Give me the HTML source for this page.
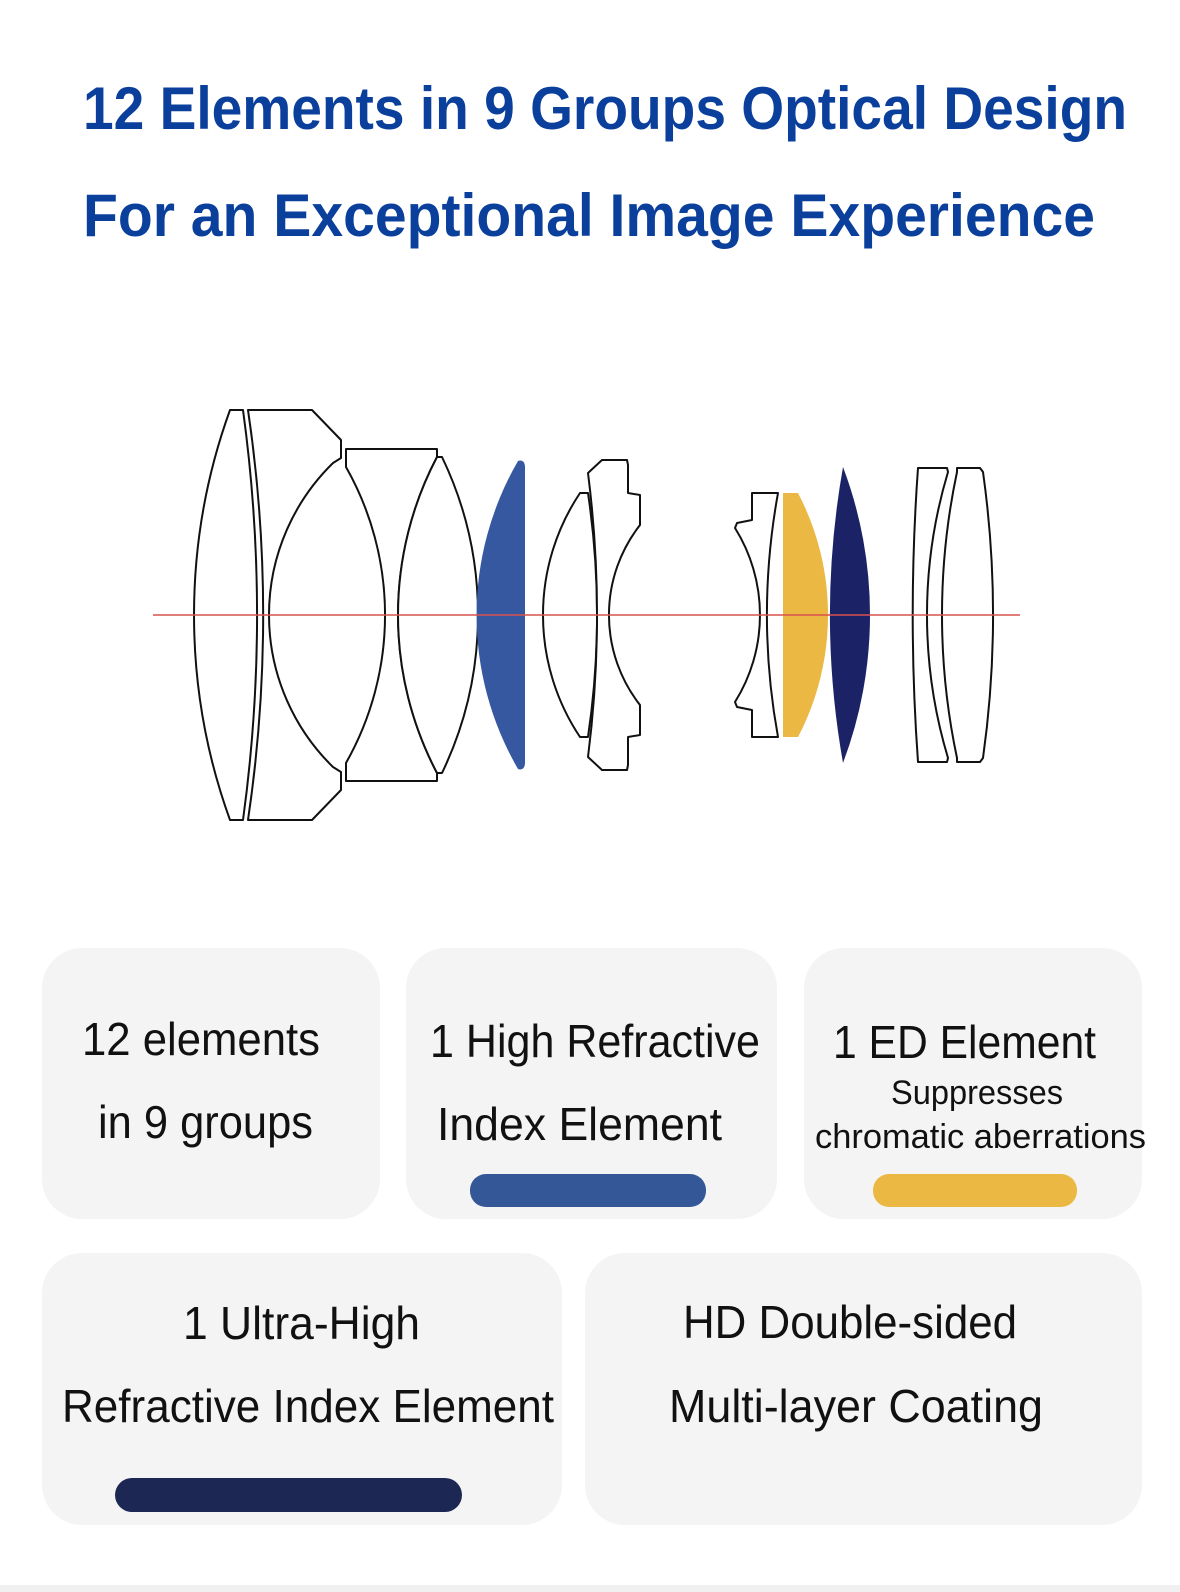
<!DOCTYPE html>
<html><head><meta charset="utf-8"><style>
html,body{margin:0;padding:0;background:#fff;}
svg{display:block;}
</style></head><body>
<svg width="1180" height="1592" viewBox="0 0 1180 1592" xmlns="http://www.w3.org/2000/svg">
<rect width="1180" height="1592" fill="#fff"/>
<g font-family="Liberation Sans, sans-serif" font-weight="bold" fill="#0b3f9c" font-size="60">
<text x="83" y="129" textLength="1044" lengthAdjust="spacingAndGlyphs">12 Elements in 9 Groups Optical Design</text>
<text x="83" y="236" textLength="1012" lengthAdjust="spacingAndGlyphs">For an Exceptional Image Experience</text>
</g>
<g fill="#fff" stroke="#111" stroke-width="2" stroke-linejoin="round">
<path d="M230,410 L243,410 A1508,1508 0 0 1 243,820 L230,820 A602,602 0 0 1 230,410 Z"/>
<path d="M248,410 L312,410 L341,440 L341,458 L333,463 A212.5,212.5 0 0 0 333,767 L341,772 L341,790 L312,820 L248,820 A1400,1400 0 0 0 248,410 Z"/>
<path d="M346,449 L437,449 L437,457 A339.6,339.6 0 0 0 437,773 L437,781 L346,781 L346,763 A300,300 0 0 0 346,467 Z"/>
<path d="M437,457 L442,457 A364.7,364.7 0 0 1 442,773 L437,773 A339.6,339.6 0 0 1 437,457 Z"/>
<path d="M580,493 L588,493 A831,831 0 0 1 588,737 L580,737 A219.6,219.6 0 0 1 580,493 Z"/>
<path d="M588,473 L602,460 L627,460 L628,465 L628,493 L640,495 L640,525 A146,146 0 0 0 640,705 L640,735 L628,737 L628,765 L627,770 L602,770 L588,757 A1125,1125 0 0 0 588,473 Z"/>
<path d="M752,493 L778,493 A682,682 0 0 0 778,737 L752,737 L752,710 L737,707 L735,702 A164,164 0 0 0 735,528 L737,523 L752,520 Z"/>
<path d="M918,468 L947,468 L948,472 A497,497 0 0 0 948,758 L947,762 L918,762 A2045,2045 0 0 1 918,468 Z"/>
<path d="M957,468 L980,468 L983,472 A1027,1027 0 0 1 983,758 L980,762 L957,762 L957,758 A689,689 0 0 1 957,472 Z"/>
</g>
<path d="M518,461 Q524,459 525,466 L525,764 Q524,771 518,769 A307,307 0 0 1 518,461 Z" fill="#3558a0"/>
<path d="M783,493 L798,493 A263,263 0 0 1 798,737 L783,737 Z" fill="#ebb843"/>
<path d="M843,467 A419,419 0 0 1 843,763 A849,849 0 0 1 843,467 Z" fill="#1b2366"/>
<line x1="153" y1="615" x2="1020" y2="615" stroke="#d9534f" stroke-width="1.6"/>

<g fill="#f4f4f4">
<rect x="42" y="948" width="338" height="271" rx="40"/>
<rect x="406" y="948" width="371" height="271" rx="40"/>
<rect x="804" y="948" width="338" height="271" rx="40"/>
<rect x="42" y="1253" width="520" height="272" rx="40"/>
<rect x="585" y="1253" width="557" height="272" rx="40"/>
</g>
<rect x="470" y="1174" width="236" height="33" rx="16" fill="#345897"/>
<rect x="873" y="1174" width="204" height="33" rx="16" fill="#ebb943"/>
<rect x="115" y="1478" width="347" height="34" rx="17" fill="#1d2753"/>
<rect x="0" y="1585" width="1180" height="7" fill="#f0f0f0"/>

<g font-family="Liberation Sans, sans-serif" fill="#111" font-size="46">
<text x="82" y="1055" textLength="238" lengthAdjust="spacingAndGlyphs">12 elements</text>
<text x="98" y="1138" textLength="215" lengthAdjust="spacingAndGlyphs">in 9 groups</text>
<text x="430" y="1057" textLength="330" lengthAdjust="spacingAndGlyphs">1 High Refractive</text>
<text x="437" y="1140" textLength="285" lengthAdjust="spacingAndGlyphs">Index Element</text>
<text x="833" y="1058" textLength="263" lengthAdjust="spacingAndGlyphs">1 ED Element</text>
<text x="891" y="1104" font-size="34" textLength="172" lengthAdjust="spacingAndGlyphs">Suppresses</text>
<text x="815" y="1148" font-size="34" textLength="331" lengthAdjust="spacingAndGlyphs">chromatic aberrations</text>
<text x="183" y="1339" textLength="237" lengthAdjust="spacingAndGlyphs">1 Ultra-High</text>
<text x="62" y="1422" textLength="492" lengthAdjust="spacingAndGlyphs">Refractive Index Element</text>
<text x="683" y="1338" textLength="334" lengthAdjust="spacingAndGlyphs">HD Double-sided</text>
<text x="669" y="1422" textLength="374" lengthAdjust="spacingAndGlyphs">Multi-layer Coating</text>
</g>
</svg>
</body></html>
